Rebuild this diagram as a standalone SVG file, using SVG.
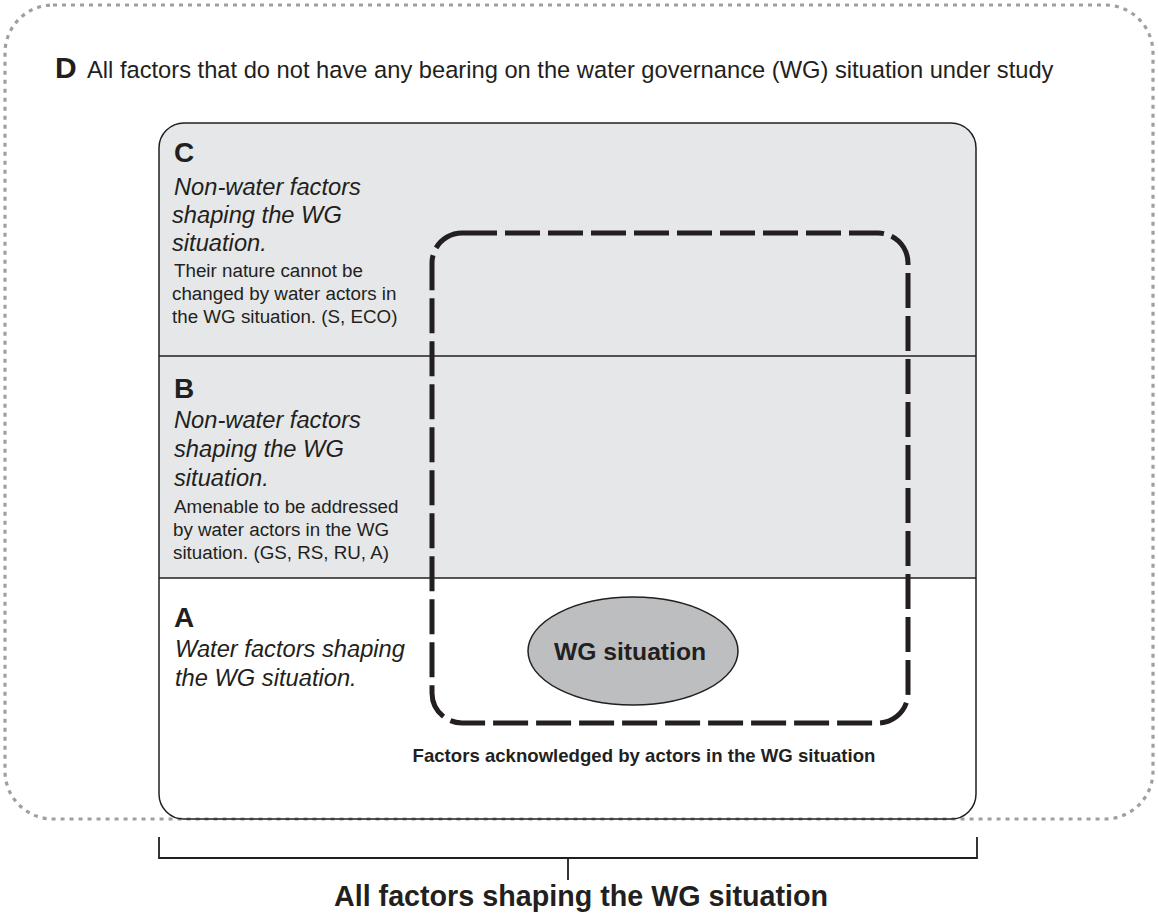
<svg xmlns="http://www.w3.org/2000/svg" width="1158" height="922" viewBox="0 0 1158 922">
<style>
.t{font-family:"Liberation Sans",Arial,sans-serif;fill:#231f20}
.big{font-size:28px;font-weight:bold}
.it{font-size:23.7px;font-style:italic}
.sm{font-size:18.8px}
.b{font-weight:bold}
</style>
<rect width="1158" height="922" fill="#ffffff"/>
<g id="D">
<rect x="5" y="5" width="1148" height="814" rx="48" ry="48" fill="none" stroke="#9d9fa2" stroke-width="3.2" stroke-dasharray="4 5"/>
<text class="t b" x="55" y="78" font-size="30">D</text>
<text class="t" x="87" y="78" font-size="23.7">All factors that do not have any bearing on the water governance (WG) situation under study</text>
</g>
<g id="main">
<path d="M159 356 V148 A25 25 0 0 1 184 123 H951 A25 25 0 0 1 976 148 V356 Z" fill="#e6e7e8"/>
<rect x="159" y="356" width="817" height="222" fill="#e6e7e8"/>
<rect x="159" y="123" width="817" height="696" rx="25" ry="25" fill="none" stroke="#231f20" stroke-width="1.5"/>
<line x1="159" y1="356" x2="976" y2="356" stroke="#231f20" stroke-width="1.3"/>
<line x1="159" y1="578" x2="976" y2="578" stroke="#231f20" stroke-width="1.3"/>
</g>
<g id="C">
<text class="t big" x="174" y="162">C</text>
<text class="t it"><tspan x="174" y="195">Non-water factors</tspan><tspan x="172" y="223">shaping the WG</tspan><tspan x="172" y="251">situation.</tspan></text>
<text class="t sm"><tspan x="174" y="277">Their nature cannot be</tspan><tspan x="172" y="300">changed by water actors in</tspan><tspan x="172" y="323">the WG situation. (S, ECO)</tspan></text>
</g>
<g id="B">
<text class="t big" x="174" y="398">B</text>
<text class="t it"><tspan x="174" y="428">Non-water factors</tspan><tspan x="174" y="457">shaping the WG</tspan><tspan x="174" y="486">situation.</tspan></text>
<text class="t sm"><tspan x="174" y="513">Amenable to be addressed</tspan><tspan x="173" y="536">by water actors in the WG</tspan><tspan x="173" y="559">situation. (GS, RS, RU, A)</tspan></text>
</g>
<g id="A">
<text class="t big" x="174" y="627">A</text>
<text class="t it"><tspan x="175" y="657">Water factors shaping</tspan><tspan x="175" y="686">the WG situation.</tspan></text>
</g>
<g id="acknowledged">
<rect x="432" y="233" width="476" height="490" rx="30" ry="30" fill="none" stroke="#231f20" stroke-width="5" stroke-dasharray="35 8"/>
<text class="t b" x="644" y="762" font-size="18.6" text-anchor="middle">Factors acknowledged by actors in the WG situation</text>
</g>
<g id="WG">
<ellipse cx="633" cy="651" rx="105" ry="54" fill="#bcbec0" stroke="#231f20" stroke-width="1.5"/>
<text class="t b" x="630" y="660" font-size="24.7" text-anchor="middle">WG situation</text>
</g>
<g id="connectors">
<path d="M159 837 V858 H977 V837 M568 858 V880" fill="none" stroke="#231f20" stroke-width="1.8"/>
</g>
<g id="bracket-label">
<text class="t b" x="581" y="906" font-size="28.7" text-anchor="middle">All factors shaping the WG situation</text>
</g>
</svg>
